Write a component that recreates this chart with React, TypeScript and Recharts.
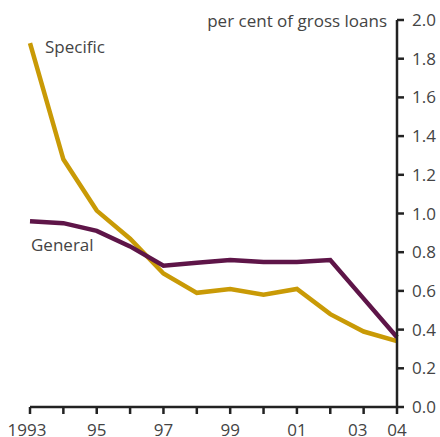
import React from 'react';
import { LineChart, Line, XAxis, YAxis } from 'recharts';

const years = [1993, 1994, 1995, 1996, 1997, 1998, 1999, 2000, 2001, 2002, 2003, 2004];
const specific = [1.88, 1.28, 1.015, 0.87, 0.69, 0.59, 0.61, 0.58, 0.61, 0.48, 0.39, 0.34];
const general = [0.96, 0.95, 0.91, 0.83, 0.73, 0.745, 0.76, 0.75, 0.75, 0.76, 0.56, 0.36];
const xTickLabels: Record<number, string> = { 1993: '1993', 1995: '95', 1997: '97', 1999: '99', 2001: '01', 2003: '03', 2004: '04' };
const yTicks = [0, 0.2, 0.4, 0.6, 0.8, 1.0, 1.2, 1.4, 1.6, 1.8, 2.0];

const data = years.map((y, i) => ({ year: y, specific: specific[i], general: general[i] }));

const FONT = '"Open Sans", "Noto Sans", sans-serif';
const TEXT = '#444';
const FS = 17;

const XTick = (props: any) => {
  const { x, y, payload } = props;
  const label = xTickLabels[payload.value] ?? '';
  const dx = payload.value === 2003 ? -6 : payload.value === 1993 ? -3 : 0;
  return (
    <text x={x + dx} y={y} dy="0.71em" textAnchor="middle" fill={TEXT} fontSize={FS} fontFamily={FONT}>
      {label}
    </text>
  );
};

export default function App() {
  return (
    <div style={{ position: 'absolute', left: 0, top: 0, width: 440, height: 437, background: '#fff' }}>
      <LineChart width={440} height={437} data={data} margin={{ top: 20, right: 0, left: 30, bottom: 0 }}>
        <XAxis
          dataKey="year"
          type="number"
          domain={[1993, 2004]}
          ticks={years}
          interval={0}
          height={30}
          tickSize={7}
          tickMargin={10}
          tick={<XTick />}
          tickLine={{ stroke: '#222', strokeWidth: 2.5 }}
          axisLine={{ stroke: '#222', strokeWidth: 2.5 }}
        />
        <YAxis
          orientation="right"
          domain={[0, 2]}
          ticks={yTicks}
          interval={0}
          width={43}
          tickSize={7}
          tickMargin={8}
          tickFormatter={(v: number) => v.toFixed(1)}
          tick={{ fill: TEXT, fontSize: FS, fontFamily: FONT, textAnchor: 'start' }}
          tickLine={{ stroke: '#222', strokeWidth: 2.5 }}
          axisLine={{ stroke: '#222', strokeWidth: 2.5 }}
        />
        <Line type="linear" dataKey="specific" stroke="#C99A06" strokeWidth={4.5} dot={false} isAnimationActive={false} />
        <Line type="linear" dataKey="general" stroke="#5E1548" strokeWidth={4.5} dot={false} isAnimationActive={false} />
        <text x={387} y={27} textAnchor="end" fill={TEXT} fontSize={FS} fontFamily={FONT}>per cent of gross loans</text>
        <text x={45} y={53} fill={TEXT} fontSize={FS} fontFamily={FONT}>Specific</text>
        <text x={31} y={251} fill={TEXT} fontSize={FS} fontFamily={FONT}>General</text>
      </LineChart>
    </div>
  );
}
